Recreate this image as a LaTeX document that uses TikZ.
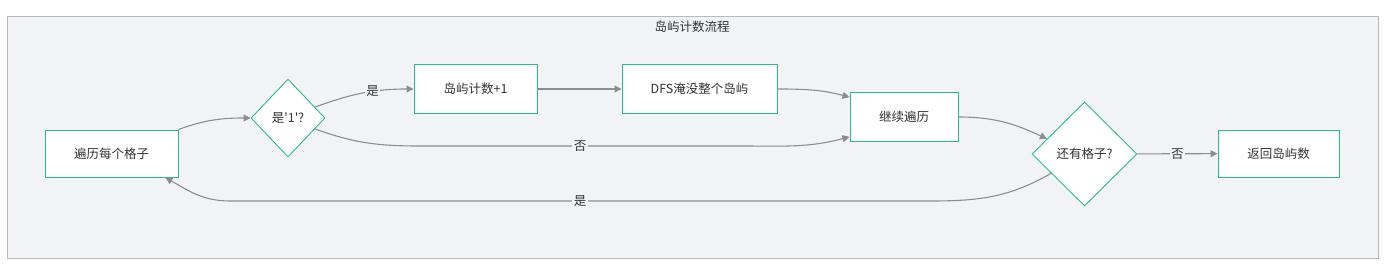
\documentclass[tikz,border=0pt]{standalone}
\usepackage{fontspec}
\setmainfont{Noto Sans CJK SC}
\usepackage{tikz}
\usetikzlibrary{arrows.meta,positioning,shapes.geometric,backgrounds}

\definecolor{nodeline}{RGB}{38,190,140}
\definecolor{edgegray}{RGB}{138,141,150}
\definecolor{framegray}{RGB}{184,186,191}
\definecolor{framebg}{RGB}{242,243,245}
\definecolor{textgray}{RGB}{51,51,51}

\begin{document}
\begin{tikzpicture}[
    x=1pt, y=1pt,
    >={Triangle[length=7pt,width=7pt]},
    stage/.style={draw=nodeline, line width=1pt, fill=white, minimum height=47pt, inner sep=0pt, text=textgray, font=\fontsize{12.5}{15}\selectfont},
    decision/.style={diamond, draw=nodeline, line width=0.9pt, fill=white, inner sep=0pt, text=textgray, font=\fontsize{12.5}{15}\selectfont},
    arrow/.style={->, draw=edgegray, line width=1.1pt},
    edgelabel/.style={fill=framebg, inner sep=1.5pt, text=textgray, font=\fontsize{12.5}{15}\selectfont}
]
\useasboundingbox (0,0) rectangle (1385,271);

% Frame
\draw[draw=framegray, fill=framebg, line width=1pt] (7.5,13) rectangle (1378,254.5);
\node[text=textgray, font=\fontsize{12.5}{15}\selectfont] (title) at (692,244) {岛屿计数流程};

% Nodes
\node[stage, minimum width=133pt] (scan) at (111.5,117.5) {遍历每个格子};
\node[decision, minimum width=74pt, minimum height=78pt] (isone) at (288,153) {是\textquotesingle 1\textquotesingle ?};
\node[stage, minimum width=123pt, minimum height=48pt] (count) at (475.5,182) {岛屿计数+1};
\node[stage, minimum width=155pt, minimum height=48pt] (dfs) at (699.5,182) {DFS淹没整个岛屿};
\node[stage, minimum width=108pt, minimum height=48pt] (cont) at (904,154) {继续遍历};
\node[decision, minimum width=105pt, minimum height=104pt] (more) at (1084.5,117) {还有格子?};
\node[stage, minimum width=121pt] (ret) at (1278.5,117.5) {返回岛屿数};

% Bends of the long edges
\coordinate (noA) at (420,125);
\coordinate (noB) at (740,125);
\coordinate (yesA) at (930,70);
\coordinate (yesB) at (230,70);

% Arrows
\draw[arrow] (scan.north east) to[out=20,in=180] (isone.west);
\draw[arrow] (isone.22) to[out=20,in=180] node[edgelabel, pos=0.6] {是} (count.west);
\draw[arrow] (isone.-22) to[out=-20,in=180] (noA) -- node[edgelabel] {否} (noB) to[out=0,in=195] (cont.200);
\draw[arrow] (count) -- (dfs);
\draw[arrow] (dfs.east) to[out=0,in=165] (cont.160);
\draw[arrow] (cont.east) to[out=0,in=155] (more.158);
\draw[arrow] (more) -- node[edgelabel] {否} (ret);
\draw[arrow] (more.-150) to[out=210,in=0] (yesA) -- node[edgelabel] {是} (yesB) to[out=180,in=-30] (scan.-24);
\end{tikzpicture}
\end{document}
